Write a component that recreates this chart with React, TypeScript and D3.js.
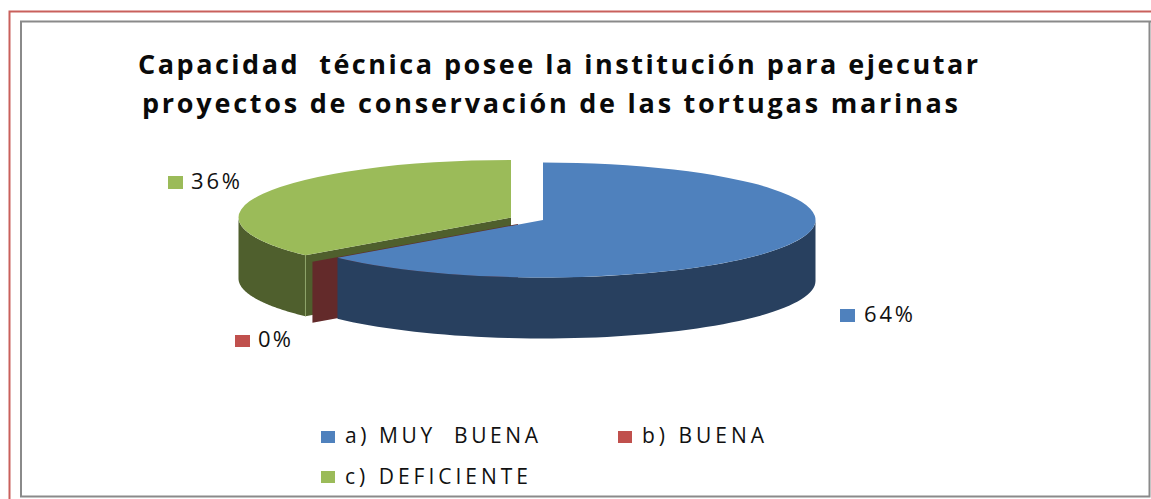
import React from "react";
import * as d3 from "d3";

const categories = ["a) MUY  BUENA", "b) BUENA", "c) DEFICIENTE"];
const shares = [63.6, 0, 36.4];
const percentLabels = ["64%", "0%", "36%"];
const topColors = ["#4F81BD", "#C0504D", "#9BBB59"];
const sideColors = ["#28405F", "#632A2A", "#4F5F2D"];
const titleLines = [
  "Capacidad  técnica posee la institución para ejecutar",
  "proyectos de conservación de las tortugas marinas",
];

const W = 1151, H = 499;
const RX = 272.5, RY = 57.5, DEPTH = 61;
const FONT = "'Open Sans', Lato, sans-serif";
const centers = [
  { x: 543, y: 220 },
  { x: 518, y: 224 },
  { x: 511, y: 217.5 },
];
const titlePos = [
  { x: 138, y: 74, len: 840 },
  { x: 142, y: 113, len: 816 },
];
const labelPos = [
  { sx: 840, sy: 309, sw: 15, sh: 13, tx: 864, ty: 322, len: 49 },
  { sx: 235, sy: 335, sw: 15, sh: 12, tx: 258, ty: 347, len: 33 },
  { sx: 168, sy: 176, sw: 15, sh: 13, tx: 191, ty: 189, len: 49 },
];
const legendPos = [
  { sx: 321, sy: 431, tx: 345, ty: 443, len: 193 },
  { sx: 618, sy: 431, tx: 642, ty: 443, len: 122 },
  { sx: 321, sy: 471, tx: 345, ty: 484, len: 183 },
];

const pieGen = d3.pie<number>().sort(null).value((d) => d);
const slices = pieGen(shares);
const arcGen = d3.arc<d3.PieArcDatum<number>>().innerRadius(0).outerRadius(RX);
const lineGen = d3.line<[number, number]>();

const project = (c: { x: number; y: number }, a: number, r = 1, dy = 0): [number, number] => [
  c.x + RX * r * Math.sin(a),
  c.y - RY * r * Math.cos(a) + dy,
];

function rimWall(c: { x: number; y: number }, a0: number, a1: number) {
  const angles = d3.range(0, 61).map((i) => a0 + ((a1 - a0) * i) / 60);
  const pts = [
    ...angles.map((a) => project(c, a)),
    ...angles.slice().reverse().map((a) => project(c, a, 1, DEPTH)),
  ];
  return lineGen(pts) + "Z";
}
function cutWall(c: { x: number; y: number }, a: number, r0: number, r1: number) {
  return (
    lineGen([
      project(c, a, r0),
      project(c, a, r1),
      project(c, a, r1, DEPTH),
      project(c, a, r0, DEPTH),
    ]) + "Z"
  );
}

export default function App() {
  const [blue, red, green] = slices;
  const cutAngle = blue.endAngle;
  return (
    <svg
      width={W}
      height={H}
      viewBox={`0 0 ${W} ${H}`}
      style={{ position: "absolute", left: 0, top: 0, background: "#fff" }}
    >
      <path d={`M${W} 11.5H9.5V${H}`} fill="none" stroke="#C9605C" strokeWidth={2} />
      <path d={`M${W} 21.5H21V${H - 2.5}H${W - 1.5}V21.5`} fill="none" stroke="#8A8A8A" strokeWidth={2} />

      {titleLines.map((t, i) => (
        <text
          key={i}
          x={titlePos[i].x}
          y={titlePos[i].y}
          textLength={titlePos[i].len}
          lengthAdjust="spacing"
          fontFamily={FONT}
          fontWeight={700}
          fontSize={27}
          fill="#0a0a0a"
          xmlSpace="preserve"
        >
          {t}
        </text>
      ))}

      <path d={rimWall(centers[2], green.startAngle, Math.PI * 1.5)} fill={sideColors[2]} />
      <path d={cutWall(centers[2], cutAngle, 0, 1)} fill={sideColors[2]} />
      <path
        d={d3.line()([project(centers[2], cutAngle), project(centers[2], cutAngle, 1, DEPTH)]) as string}
        stroke="#8FA56A"
        strokeWidth={1}
        fill="none"
      />
      <path
        d={arcGen(green) as string}
        transform={`translate(${centers[2].x},${centers[2].y}) scale(1,${RY / RX})`}
        fill={topColors[2]}
      />

      <path d={cutWall(centers[1], red.startAngle, 0, 1)} fill={sideColors[1]} />

      <path d={rimWall(centers[0], Math.PI / 2, cutAngle)} fill={sideColors[0]} />
      <path
        d={arcGen(blue) as string}
        transform={`translate(${centers[0].x},${centers[0].y}) scale(1,${RY / RX})`}
        fill={topColors[0]}
      />

      {labelPos.map((p, i) => (
        <g key={i}>
          <rect x={p.sx} y={p.sy} width={p.sw} height={p.sh} fill={topColors[i]} />
          <text x={p.tx} y={p.ty} textLength={p.len} lengthAdjust="spacing" fontFamily={FONT} fontSize={22} fill="#111">
            {percentLabels[i]}
          </text>
        </g>
      ))}

      {legendPos.map((p, i) => (
        <g key={i}>
          <rect x={p.sx} y={p.sy} width={14} height={12} fill={topColors[i]} />
          <text
            x={p.tx}
            y={p.ty}
            textLength={p.len}
            lengthAdjust="spacing"
            fontFamily={FONT}
            fontSize={21}
            fill="#111"
            xmlSpace="preserve"
          >
            {categories[i]}
          </text>
        </g>
      ))}
    </svg>
  );
}
